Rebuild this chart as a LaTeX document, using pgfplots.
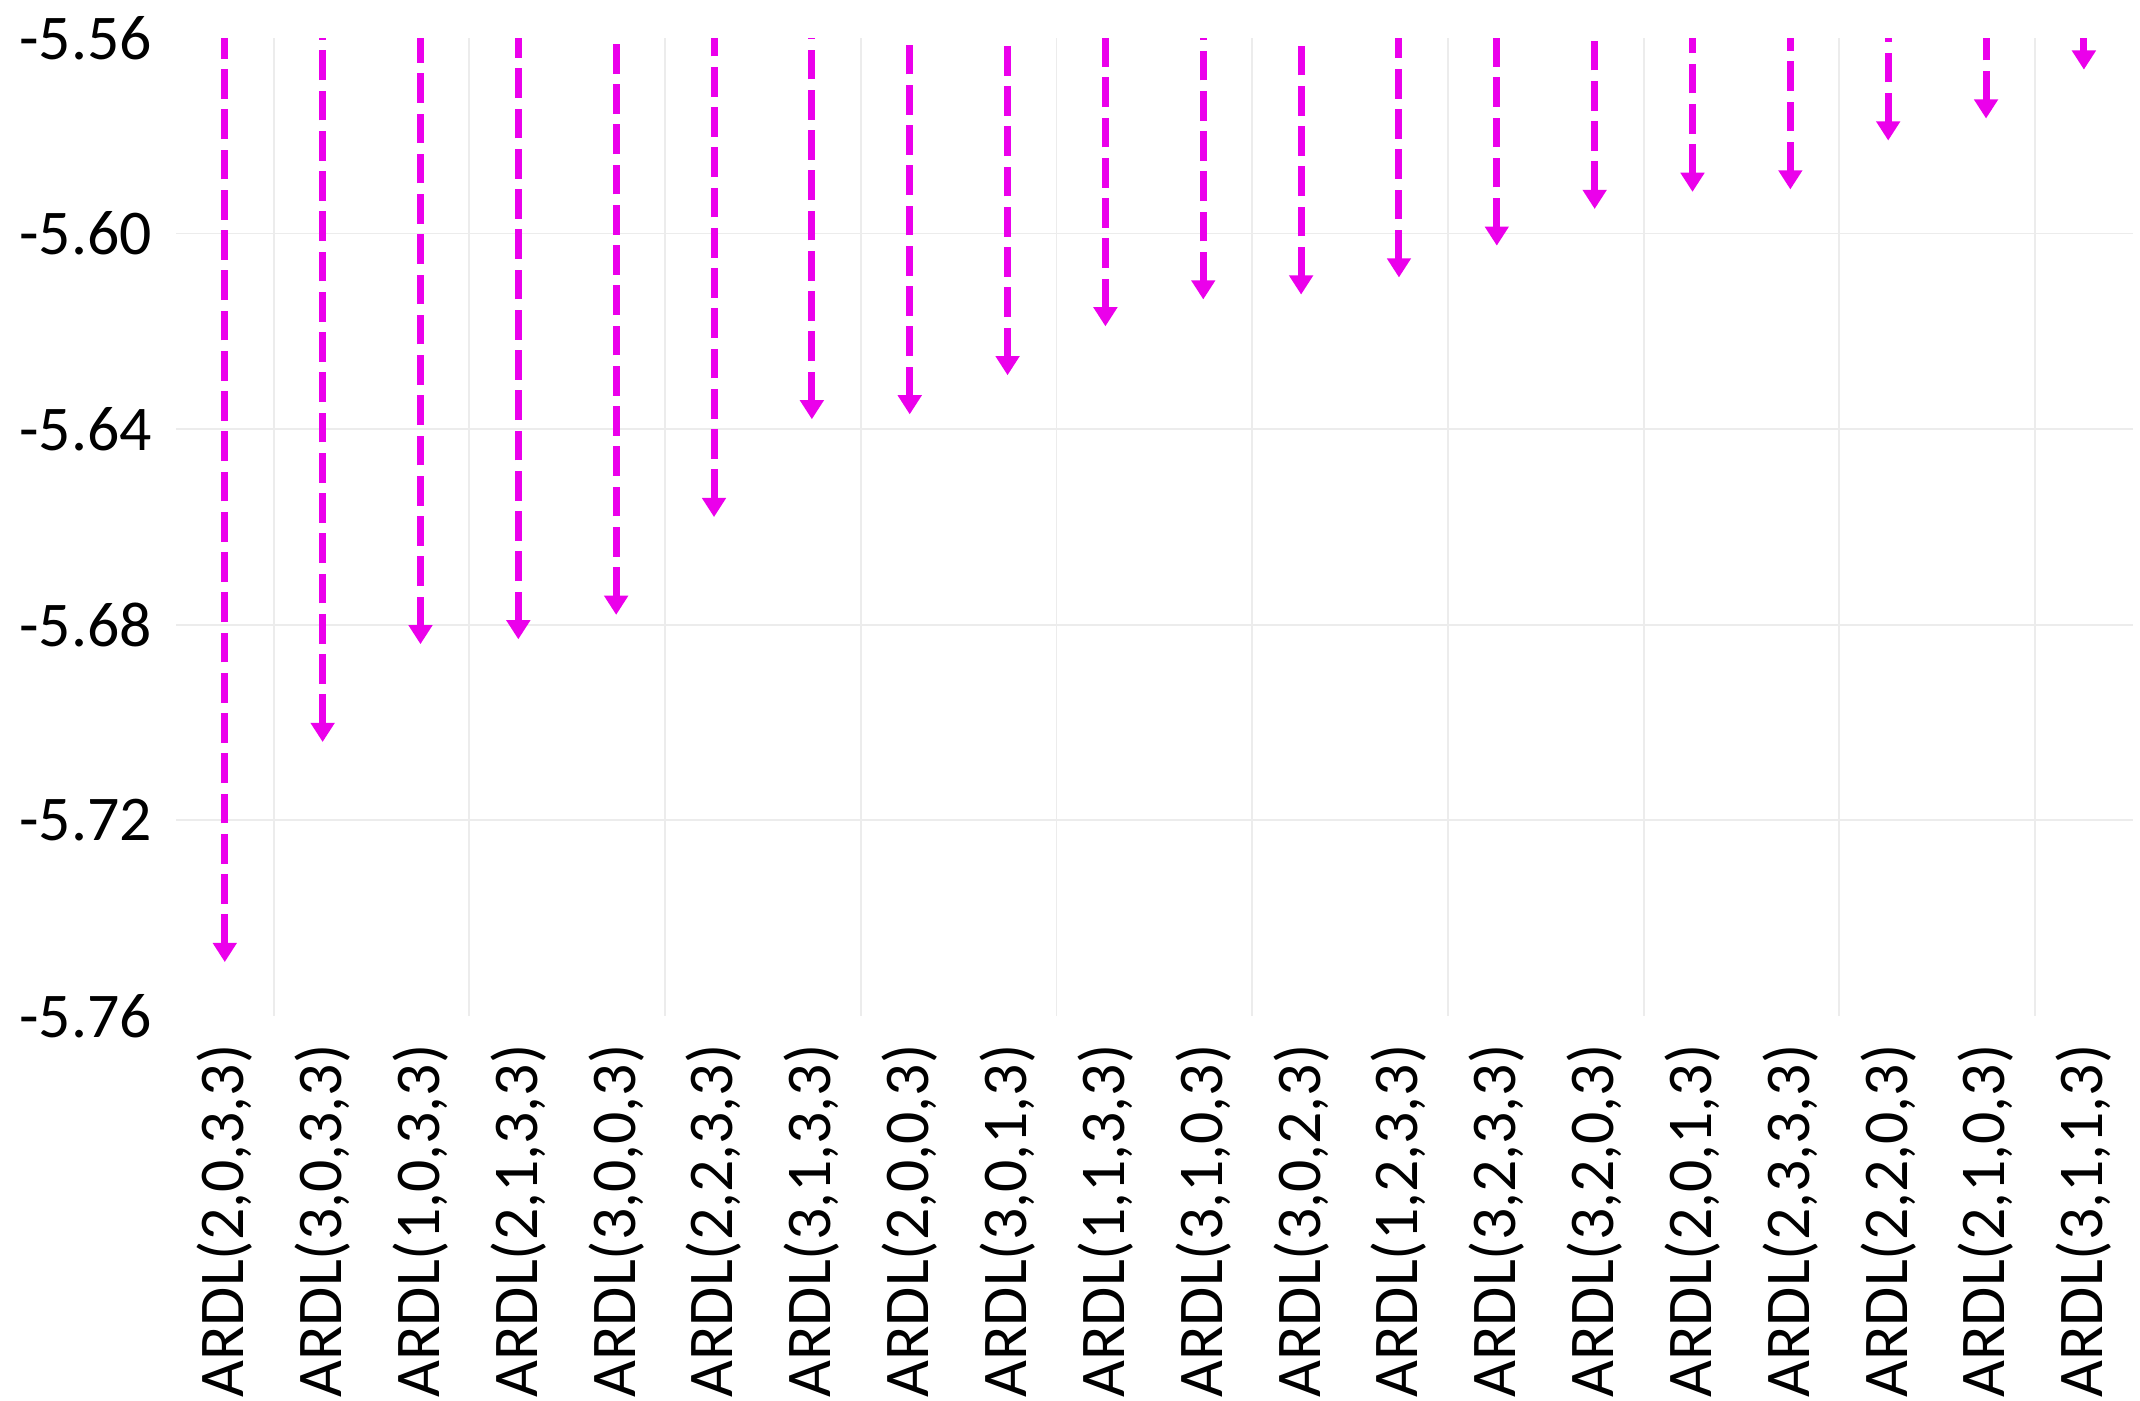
\documentclass[border=0pt]{standalone}
\usepackage{fontspec}
\setmainfont{Carlito}
\usepackage{pgfplots}
\pgfplotsset{compat=1.18}
\usepackage{pgfplotstable}
\usetikzlibrary{arrows.meta}

\definecolor{arrowmag}{RGB}{235,0,235}
\definecolor{gridgray}{RGB}{236,236,236}

% information criterion of each ARDL specification
\pgfplotstableread{
idx val
1  -5.749
2  -5.704
3  -5.684
4  -5.683
5  -5.678
6  -5.658
7  -5.638
8  -5.637
9  -5.629
10 -5.619
11 -5.6135
12 -5.6125
13 -5.609
14 -5.6025
15 -5.595
16 -5.5915
17 -5.591
18 -5.581
19 -5.5765
20 -5.5665
}\ardltable

\begin{document}
\begin{tikzpicture}
\begin{axis}[
  at={(0,0)}, anchor=south west,
  scale only axis, width=408.4pt, height=204.1pt,
  xmin=0.5, xmax=20.5, ymin=-5.76, ymax=-5.56,
  axis line style={draw=none},
  tick style={draw=none},
  xtick={1,...,20},
  xticklabels={{ARDL(2,0,3,3)},{ARDL(3,0,3,3)},{ARDL(1,0,3,3)},{ARDL(2,1,3,3)},
    {ARDL(3,0,0,3)},{ARDL(2,2,3,3)},{ARDL(3,1,3,3)},{ARDL(2,0,0,3)},
    {ARDL(3,0,1,3)},{ARDL(1,1,3,3)},{ARDL(3,1,0,3)},{ARDL(3,0,2,3)},
    {ARDL(1,2,3,3)},{ARDL(3,2,3,3)},{ARDL(3,2,0,3)},{ARDL(2,0,1,3)},
    {ARDL(2,3,3,3)},{ARDL(2,2,0,3)},{ARDL(2,1,0,3)},{ARDL(3,1,1,3)}},
  minor xtick={1.5,3.5,5.5,7.5,9.5,11.5,13.5,15.5,17.5,19.5},
  xminorgrids=true,
  minor x grid style={gridgray, line width=0.4pt},
  ytick={-5.76,-5.72,-5.68,-5.64,-5.60,-5.56},
  extra y ticks={-5.72,-5.68,-5.64,-5.60},
  extra y tick labels={},
  extra y tick style={ymajorgrids=true, major y grid style={gridgray, line width=0.4pt}},
  xticklabel style={rotate=90, anchor=east, inner sep=0pt,
    font=\fontsize{13.3}{16}\selectfont},
  yticklabel style={anchor=east, inner sep=0pt,
    font=\fontsize{13.3}{16}\selectfont,
    /pgf/number format/.cd, fixed, fixed zerofill, precision=2, assume math mode=true},
  xticklabel shift=5.8pt,
  yticklabel shift=4.8pt,
  clip=false,
]
% dashed arrows running from each value up to the top of the axis
\addplot[arrowmag, mark=none, line width=1.45pt, dash pattern=on 6.2pt off 2.2pt,
  {Triangle[length=4pt,width=4.8pt]}-,
  quiver={u=0, v={-5.56-\thisrow{val}}}]
  table[x=idx, y=val] {\ardltable};
\end{axis}
\path[use as bounding box]
  ([xshift=-36.7pt, yshift=-80.3pt]current axis.south west)
  rectangle ([xshift=1.5pt, yshift=7.9pt]current axis.north east);
\end{tikzpicture}
\end{document}
